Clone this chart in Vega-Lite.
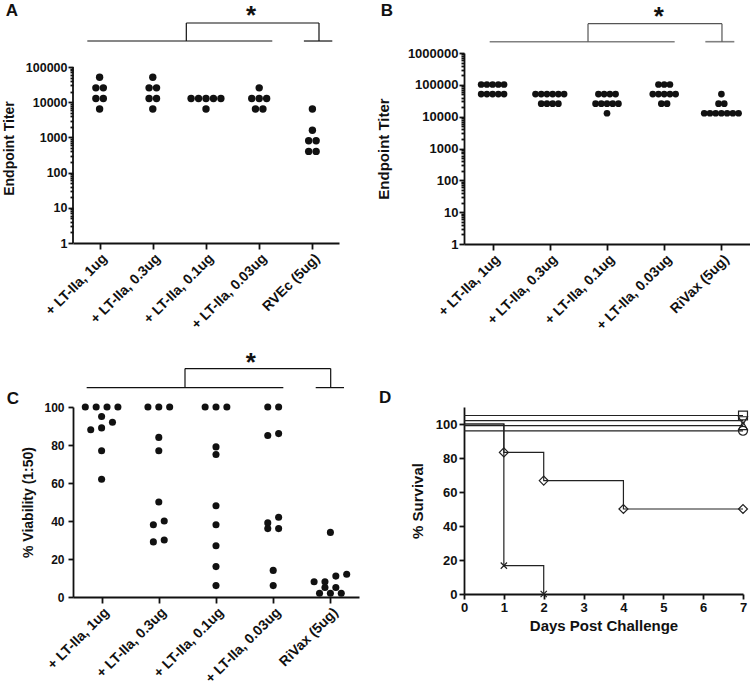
{
  "$schema": "https://vega.github.io/schema/vega-lite/v6.json",
  "padding": {"left": 2, "top": 2, "right": 0, "bottom": 0},
  "background": "white",
  "config": {
    "view": {"stroke": null},
    "font": "Liberation Sans",
    "axis": {
      "domainColor": "#111", "domainWidth": 1.8, "tickColor": "#111", "tickWidth": 1.8,
      "labelColor": "#111", "labelFont": "Liberation Sans", "labelFontWeight": "bold",
      "titleColor": "#111", "titleFont": "Liberation Sans", "titleFontWeight": "bold",
      "grid": false, "labelOverlap": false, "labelFlush": false
    }
  },
  "datasets": {
    "titerA": [
      {"group": "+ LT-IIa, 1ug", "titer": 51200}, {"group": "+ LT-IIa, 1ug", "titer": 25600}, {"group": "+ LT-IIa, 1ug", "titer": 25600},
      {"group": "+ LT-IIa, 1ug", "titer": 12800}, {"group": "+ LT-IIa, 1ug", "titer": 12800}, {"group": "+ LT-IIa, 1ug", "titer": 6400},
      {"group": "+ LT-IIa, 0.3ug", "titer": 51200}, {"group": "+ LT-IIa, 0.3ug", "titer": 25600}, {"group": "+ LT-IIa, 0.3ug", "titer": 25600},
      {"group": "+ LT-IIa, 0.3ug", "titer": 12800}, {"group": "+ LT-IIa, 0.3ug", "titer": 12800}, {"group": "+ LT-IIa, 0.3ug", "titer": 6400},
      {"group": "+ LT-IIa, 0.1ug", "titer": 12800}, {"group": "+ LT-IIa, 0.1ug", "titer": 12800}, {"group": "+ LT-IIa, 0.1ug", "titer": 12800},
      {"group": "+ LT-IIa, 0.1ug", "titer": 12800}, {"group": "+ LT-IIa, 0.1ug", "titer": 12800}, {"group": "+ LT-IIa, 0.1ug", "titer": 6400},
      {"group": "+ LT-IIa, 0.03ug", "titer": 25600}, {"group": "+ LT-IIa, 0.03ug", "titer": 12800}, {"group": "+ LT-IIa, 0.03ug", "titer": 12800},
      {"group": "+ LT-IIa, 0.03ug", "titer": 12800}, {"group": "+ LT-IIa, 0.03ug", "titer": 6400}, {"group": "+ LT-IIa, 0.03ug", "titer": 6400},
      {"group": "RVEc (5ug)", "titer": 6400}, {"group": "RVEc (5ug)", "titer": 1600}, {"group": "RVEc (5ug)", "titer": 800},
      {"group": "RVEc (5ug)", "titer": 800}, {"group": "RVEc (5ug)", "titer": 400}, {"group": "RVEc (5ug)", "titer": 400}
    ],
    "titerB": [
      {"group": "+ LT-IIa, 1ug", "titer": 102400}, {"group": "+ LT-IIa, 1ug", "titer": 102400}, {"group": "+ LT-IIa, 1ug", "titer": 102400},
      {"group": "+ LT-IIa, 1ug", "titer": 102400}, {"group": "+ LT-IIa, 1ug", "titer": 102400},
      {"group": "+ LT-IIa, 1ug", "titer": 51200}, {"group": "+ LT-IIa, 1ug", "titer": 51200}, {"group": "+ LT-IIa, 1ug", "titer": 51200},
      {"group": "+ LT-IIa, 1ug", "titer": 51200}, {"group": "+ LT-IIa, 1ug", "titer": 51200},
      {"group": "+ LT-IIa, 0.3ug", "titer": 51200}, {"group": "+ LT-IIa, 0.3ug", "titer": 51200}, {"group": "+ LT-IIa, 0.3ug", "titer": 51200},
      {"group": "+ LT-IIa, 0.3ug", "titer": 51200}, {"group": "+ LT-IIa, 0.3ug", "titer": 51200}, {"group": "+ LT-IIa, 0.3ug", "titer": 51200},
      {"group": "+ LT-IIa, 0.3ug", "titer": 25600}, {"group": "+ LT-IIa, 0.3ug", "titer": 25600}, {"group": "+ LT-IIa, 0.3ug", "titer": 25600},
      {"group": "+ LT-IIa, 0.3ug", "titer": 25600},
      {"group": "+ LT-IIa, 0.1ug", "titer": 51200}, {"group": "+ LT-IIa, 0.1ug", "titer": 51200}, {"group": "+ LT-IIa, 0.1ug", "titer": 51200},
      {"group": "+ LT-IIa, 0.1ug", "titer": 51200},
      {"group": "+ LT-IIa, 0.1ug", "titer": 25600}, {"group": "+ LT-IIa, 0.1ug", "titer": 25600}, {"group": "+ LT-IIa, 0.1ug", "titer": 25600},
      {"group": "+ LT-IIa, 0.1ug", "titer": 25600}, {"group": "+ LT-IIa, 0.1ug", "titer": 25600}, {"group": "+ LT-IIa, 0.1ug", "titer": 12800},
      {"group": "+ LT-IIa, 0.03ug", "titer": 102400}, {"group": "+ LT-IIa, 0.03ug", "titer": 102400}, {"group": "+ LT-IIa, 0.03ug", "titer": 102400},
      {"group": "+ LT-IIa, 0.03ug", "titer": 51200}, {"group": "+ LT-IIa, 0.03ug", "titer": 51200}, {"group": "+ LT-IIa, 0.03ug", "titer": 51200},
      {"group": "+ LT-IIa, 0.03ug", "titer": 51200}, {"group": "+ LT-IIa, 0.03ug", "titer": 51200},
      {"group": "+ LT-IIa, 0.03ug", "titer": 25600}, {"group": "+ LT-IIa, 0.03ug", "titer": 25600},
      {"group": "RiVax (5ug)", "titer": 51200}, {"group": "RiVax (5ug)", "titer": 25600}, {"group": "RiVax (5ug)", "titer": 25600},
      {"group": "RiVax (5ug)", "titer": 12800}, {"group": "RiVax (5ug)", "titer": 12800}, {"group": "RiVax (5ug)", "titer": 12800},
      {"group": "RiVax (5ug)", "titer": 12800}, {"group": "RiVax (5ug)", "titer": 12800}, {"group": "RiVax (5ug)", "titer": 12800},
      {"group": "RiVax (5ug)", "titer": 12800}
    ],
    "viabilityC": [
      {"group": "+ LT-IIa, 1ug", "viability": 100}, {"group": "+ LT-IIa, 1ug", "viability": 100}, {"group": "+ LT-IIa, 1ug", "viability": 100},
      {"group": "+ LT-IIa, 1ug", "viability": 100}, {"group": "+ LT-IIa, 1ug", "viability": 95}, {"group": "+ LT-IIa, 1ug", "viability": 92},
      {"group": "+ LT-IIa, 1ug", "viability": 89}, {"group": "+ LT-IIa, 1ug", "viability": 88}, {"group": "+ LT-IIa, 1ug", "viability": 77},
      {"group": "+ LT-IIa, 1ug", "viability": 62},
      {"group": "+ LT-IIa, 0.3ug", "viability": 100}, {"group": "+ LT-IIa, 0.3ug", "viability": 100}, {"group": "+ LT-IIa, 0.3ug", "viability": 100},
      {"group": "+ LT-IIa, 0.3ug", "viability": 84}, {"group": "+ LT-IIa, 0.3ug", "viability": 77}, {"group": "+ LT-IIa, 0.3ug", "viability": 50},
      {"group": "+ LT-IIa, 0.3ug", "viability": 40}, {"group": "+ LT-IIa, 0.3ug", "viability": 38}, {"group": "+ LT-IIa, 0.3ug", "viability": 30},
      {"group": "+ LT-IIa, 0.3ug", "viability": 29},
      {"group": "+ LT-IIa, 0.1ug", "viability": 100}, {"group": "+ LT-IIa, 0.1ug", "viability": 100}, {"group": "+ LT-IIa, 0.1ug", "viability": 100},
      {"group": "+ LT-IIa, 0.1ug", "viability": 79}, {"group": "+ LT-IIa, 0.1ug", "viability": 75}, {"group": "+ LT-IIa, 0.1ug", "viability": 48},
      {"group": "+ LT-IIa, 0.1ug", "viability": 38}, {"group": "+ LT-IIa, 0.1ug", "viability": 27}, {"group": "+ LT-IIa, 0.1ug", "viability": 16},
      {"group": "+ LT-IIa, 0.1ug", "viability": 6},
      {"group": "+ LT-IIa, 0.03ug", "viability": 100}, {"group": "+ LT-IIa, 0.03ug", "viability": 100}, {"group": "+ LT-IIa, 0.03ug", "viability": 86},
      {"group": "+ LT-IIa, 0.03ug", "viability": 85}, {"group": "+ LT-IIa, 0.03ug", "viability": 42}, {"group": "+ LT-IIa, 0.03ug", "viability": 39},
      {"group": "+ LT-IIa, 0.03ug", "viability": 36}, {"group": "+ LT-IIa, 0.03ug", "viability": 36}, {"group": "+ LT-IIa, 0.03ug", "viability": 14},
      {"group": "+ LT-IIa, 0.03ug", "viability": 6},
      {"group": "RiVax (5ug)", "viability": 34}, {"group": "RiVax (5ug)", "viability": 12}, {"group": "RiVax (5ug)", "viability": 11},
      {"group": "RiVax (5ug)", "viability": 8}, {"group": "RiVax (5ug)", "viability": 8}, {"group": "RiVax (5ug)", "viability": 5},
      {"group": "RiVax (5ug)", "viability": 5}, {"group": "RiVax (5ug)", "viability": 2}, {"group": "RiVax (5ug)", "viability": 2},
      {"group": "RiVax (5ug)", "viability": 2}
    ],
    "survivalD": [
      {"series": "Group 1", "day": 0, "survival": 105}, {"series": "Group 1", "day": 7, "survival": 105},
      {"series": "Group 2", "day": 0, "survival": 102}, {"series": "Group 2", "day": 7, "survival": 102},
      {"series": "Group 3", "day": 0, "survival": 99}, {"series": "Group 3", "day": 7, "survival": 99},
      {"series": "Group 4", "day": 0, "survival": 96}, {"series": "Group 4", "day": 7, "survival": 96},
      {"series": "Group 5", "day": 0, "survival": 100}, {"series": "Group 5", "day": 1, "survival": 83.3},
      {"series": "Group 5", "day": 2, "survival": 66.7}, {"series": "Group 5", "day": 4, "survival": 50},
      {"series": "Group 5", "day": 7, "survival": 50},
      {"series": "Group 6", "day": 0, "survival": 100}, {"series": "Group 6", "day": 1, "survival": 16.7},
      {"series": "Group 6", "day": 2, "survival": 0}
    ]
  },
  "spacing": 17,
  "hconcat": [
    {
      "spacing": 18,
      "vconcat": [
        {
          "width": 266, "height": 190,
          "layer": [
            {
              "data": {"name": "titerA"},
              "transform": [
                {"calculate": "indexof(['+ LT-IIa, 1ug','+ LT-IIa, 0.3ug','+ LT-IIa, 0.1ug','+ LT-IIa, 0.03ug','RVEc (5ug)'], datum.group) + 1", "as": "idx"},
                {"joinaggregate": [{"op": "count", "as": "n"}], "groupby": ["group", "titer"]},
                {"window": [{"op": "row_number", "as": "k"}], "groupby": ["group", "titer"]},
                {"calculate": "datum.idx + (datum.k - (datum.n + 1) / 2) * 0.14", "as": "xp"}
              ],
              "mark": {"type": "circle", "size": 55, "color": "#111", "opacity": 1},
              "encoding": {
                "x": {"field": "xp", "type": "quantitative", "scale": {"domain": [0.5, 5.5], "nice": false, "zero": false},
                  "axis": {"title": null, "values": [1, 2, 3, 4, 5], "tickCount": 100, "labelExpr": "['+ LT-IIa, 1ug','+ LT-IIa, 0.3ug','+ LT-IIa, 0.1ug','+ LT-IIa, 0.03ug','RVEc (5ug)'][datum.value - 1]",
                    "labelAngle": -45, "labelAlign": "right", "labelBaseline": "top", "labelFontSize": 14, "tickSize": 6, "labelPadding": 2, "labelOverlap": false}},
                "y": {"field": "titer", "type": "quantitative", "scale": {"type": "log", "domain": [1, 250000], "nice": false},
                  "axis": {"title": "Endpoint Titer", "titleFontSize": 14, "titlePadding": 9, "domain": false, "labelOverlap": false, "tickCount": 100,
                    "values": [1,2,3,4,5,6,7,8,9,10,20,30,40,50,60,70,80,90,100,200,300,400,500,600,700,800,900,1000,2000,3000,4000,5000,6000,7000,8000,9000,10000,20000,30000,40000,50000,60000,70000,80000,90000,100000],
                    "labelExpr": "indexof([1,10,100,1000,10000,100000], datum.value) >= 0 ? format(datum.value, 'd') : ''",
                    "labelFontSize": 12.5, "labelPadding": 1,
                    "tickSize": {"condition": {"test": "indexof([1,10,100,1000,10000,100000], datum.value) >= 0", "value": 5}, "value": 3}}}
              }
            },
            {"data": {"values": [{}]}, "mark": {"type": "rule", "color": "#111", "strokeWidth": 1.8},
              "encoding": {"x": {"datum": 0.5}, "y": {"datum": 1}, "y2": {"datum": 100000}}},
            {"data": {"values": [{}]}, "mark": {"type": "rule", "color": "#111", "strokeWidth": 1.2},
              "encoding": {"x": {"datum": 0.769}, "x2": {"datum": 4.246}, "y": {"datum": 547800}}},
            {"data": {"values": [{}]}, "mark": {"type": "rule", "color": "#111", "strokeWidth": 1.2},
              "encoding": {"x": {"datum": 4.84}, "x2": {"datum": 5.374}, "y": {"datum": 547800}}},
            {"data": {"values": [{}]}, "mark": {"type": "rule", "color": "#111", "strokeWidth": 1.2},
              "encoding": {"x": {"datum": 2.63}, "x2": {"datum": 5.124}, "y": {"datum": 1778000}}},
            {"data": {"values": [{}]}, "mark": {"type": "rule", "color": "#111", "strokeWidth": 1.2},
              "encoding": {"x": {"datum": 2.63}, "y": {"datum": 547800}, "y2": {"datum": 1778000}}},
            {"data": {"values": [{}]}, "mark": {"type": "rule", "color": "#111", "strokeWidth": 1.2},
              "encoding": {"x": {"datum": 5.124}, "y": {"datum": 547800}, "y2": {"datum": 1778000}}},
            {"data": {"values": [{}]}, "mark": {"type": "text", "text": "*", "fontSize": 26, "fontWeight": "bold", "font": "Liberation Sans", "color": "#111", "align": "center", "baseline": "alphabetic"},
              "encoding": {"x": {"datum": 3.846}, "y": {"datum": 1633000}}},
            {"data": {"values": [{}]}, "mark": {"type": "text", "text": "A", "fontSize": 17, "fontWeight": "bold", "font": "Liberation Sans", "color": "#111", "align": "center", "baseline": "alphabetic"},
              "encoding": {"x": {"datum": -0.647}, "y": {"datum": 2812000}}}
          ]
        },
        {
          "width": 286, "height": 190,
          "layer": [
            {
              "data": {"name": "viabilityC"},
              "transform": [
                {"calculate": "indexof(['+ LT-IIa, 1ug','+ LT-IIa, 0.3ug','+ LT-IIa, 0.1ug','+ LT-IIa, 0.03ug','RiVax (5ug)'], datum.group) + 1", "as": "idx"},
                {"bin": {"step": 5, "anchor": 2.5, "nice": false, "extent": [-2.5, 102.5]}, "field": "viability", "as": "vb"},
                {"joinaggregate": [{"op": "count", "as": "n"}], "groupby": ["group", "vb"]},
                {"window": [{"op": "row_number", "as": "k"}], "groupby": ["group", "vb"], "sort": [{"field": "viability", "order": "ascending"}]},
                {"calculate": "datum.idx + (datum.k - (datum.n + 1) / 2) * 0.19", "as": "xp"}
              ],
              "mark": {"type": "circle", "size": 50, "color": "#111", "opacity": 1},
              "encoding": {
                "x": {"field": "xp", "type": "quantitative", "scale": {"domain": [0.5, 5.5], "nice": false, "zero": false},
                  "axis": {"title": null, "values": [1, 2, 3, 4, 5], "tickCount": 100, "labelExpr": "['+ LT-IIa, 1ug','+ LT-IIa, 0.3ug','+ LT-IIa, 0.1ug','+ LT-IIa, 0.03ug','RiVax (5ug)'][datum.value - 1]",
                    "labelAngle": -45, "labelAlign": "right", "labelBaseline": "top", "labelFontSize": 14, "tickSize": 6, "labelPadding": 2, "labelOverlap": false}},
                "y": {"field": "viability", "type": "quantitative", "scale": {"domain": [0, 100], "nice": false},
                  "axis": {"title": "% Viability (1:50)", "titleFontSize": 14, "titlePadding": 8, "values": [0, 20, 40, 60, 80, 100], "tickCount": 100, "format": "d",
                    "labelFontSize": 12, "labelPadding": 4, "tickSize": 5, "labelOverlap": false}}
              }
            },
            {"data": {"values": [{}]}, "mark": {"type": "rule", "color": "#111", "strokeWidth": 1.2},
              "encoding": {"x": {"datum": 0.739}, "x2": {"datum": 4.177}, "y": {"datum": 110.2}}},
            {"data": {"values": [{}]}, "mark": {"type": "rule", "color": "#111", "strokeWidth": 1.2},
              "encoding": {"x": {"datum": 4.743}, "x2": {"datum": 5.238}, "y": {"datum": 110.2}}},
            {"data": {"values": [{}]}, "mark": {"type": "rule", "color": "#111", "strokeWidth": 1.2},
              "encoding": {"x": {"datum": 2.458}, "x2": {"datum": 5.005}, "y": {"datum": 120.2}}},
            {"data": {"values": [{}]}, "mark": {"type": "rule", "color": "#111", "strokeWidth": 1.2},
              "encoding": {"x": {"datum": 2.458}, "y": {"datum": 110.2}, "y2": {"datum": 120.2}}},
            {"data": {"values": [{}]}, "mark": {"type": "rule", "color": "#111", "strokeWidth": 1.2},
              "encoding": {"x": {"datum": 5.005}, "y": {"datum": 110.2}, "y2": {"datum": 120.2}}},
            {"data": {"values": [{}]}, "mark": {"type": "text", "text": "*", "fontSize": 26, "fontWeight": "bold", "font": "Liberation Sans", "color": "#111", "align": "center", "baseline": "alphabetic"},
              "encoding": {"x": {"datum": 3.607}, "y": {"datum": 118.8}}},
            {"data": {"values": [{}]}, "mark": {"type": "text", "text": "C", "fontSize": 17, "fontWeight": "bold", "font": "Liberation Sans", "color": "#111", "align": "center", "baseline": "alphabetic"},
              "encoding": {"x": {"datum": -0.549}, "y": {"datum": 101.6}}}
          ]
        }
      ]
    },
    {
      "spacing": 55,
      "vconcat": [
        {
          "width": 286, "height": 191,
          "layer": [
            {
              "data": {"name": "titerB"},
              "transform": [
                {"calculate": "indexof(['+ LT-IIa, 1ug','+ LT-IIa, 0.3ug','+ LT-IIa, 0.1ug','+ LT-IIa, 0.03ug','RiVax (5ug)'], datum.group) + 1", "as": "idx"},
                {"joinaggregate": [{"op": "count", "as": "n"}], "groupby": ["group", "titer"]},
                {"window": [{"op": "row_number", "as": "k"}], "groupby": ["group", "titer"]},
                {"calculate": "datum.idx + (datum.k - (datum.n + 1) / 2) * 0.1", "as": "xp"}
              ],
              "mark": {"type": "circle", "size": 45, "color": "#111", "opacity": 1},
              "encoding": {
                "x": {"field": "xp", "type": "quantitative", "scale": {"domain": [0.5, 5.5], "nice": false, "zero": false},
                  "axis": {"title": null, "values": [1, 2, 3, 4, 5], "tickCount": 100, "labelExpr": "['+ LT-IIa, 1ug','+ LT-IIa, 0.3ug','+ LT-IIa, 0.1ug','+ LT-IIa, 0.03ug','RiVax (5ug)'][datum.value - 1]",
                    "labelAngle": -45, "labelAlign": "right", "labelBaseline": "top", "labelFontSize": 14, "tickSize": 6, "labelPadding": 2, "labelOverlap": false}},
                "y": {"field": "titer", "type": "quantitative", "scale": {"type": "log", "domain": [1, 1000000], "nice": false},
                  "axis": {"title": "Endpoint Titer", "titleFontSize": 15, "titlePadding": 16, "labelOverlap": false, "tickCount": 100,
                    "values": [1,2,3,4,5,6,7,8,9,10,20,30,40,50,60,70,80,90,100,200,300,400,500,600,700,800,900,1000,2000,3000,4000,5000,6000,7000,8000,9000,10000,20000,30000,40000,50000,60000,70000,80000,90000,100000,200000,300000,400000,500000,600000,700000,800000,900000,1000000],
                    "labelExpr": "indexof([1,10,100,1000,10000,100000,1000000], datum.value) >= 0 ? format(datum.value, 'd') : ''",
                    "labelFontSize": 13, "labelPadding": 1,
                    "tickSize": {"condition": {"test": "indexof([1,10,100,1000,10000,100000,1000000], datum.value) >= 0", "value": 5}, "value": 3}}}
              }
            },
            {"data": {"values": [{}]}, "mark": {"type": "rule", "color": "#808080", "strokeWidth": 1.6},
              "encoding": {"x": {"datum": 0.949}, "x2": {"datum": 4.183}, "y": {"datum": 2265000}}},
            {"data": {"values": [{}]}, "mark": {"type": "rule", "color": "#808080", "strokeWidth": 1.6},
              "encoding": {"x": {"datum": 4.719}, "x2": {"datum": 5.226}, "y": {"datum": 2265000}}},
            {"data": {"values": [{}]}, "mark": {"type": "rule", "color": "#555", "strokeWidth": 1.2},
              "encoding": {"x": {"datum": 2.668}, "x2": {"datum": 5.01}, "y": {"datum": 8337000}}},
            {"data": {"values": [{}]}, "mark": {"type": "rule", "color": "#555", "strokeWidth": 1.2},
              "encoding": {"x": {"datum": 2.668}, "y": {"datum": 2265000}, "y2": {"datum": 8337000}}},
            {"data": {"values": [{}]}, "mark": {"type": "rule", "color": "#555", "strokeWidth": 1.2},
              "encoding": {"x": {"datum": 5.01}, "y": {"datum": 2265000}, "y2": {"datum": 8337000}}},
            {"data": {"values": [{}]}, "mark": {"type": "text", "text": "*", "fontSize": 26, "fontWeight": "bold", "font": "Liberation Sans", "color": "#111", "align": "center", "baseline": "alphabetic"},
              "encoding": {"x": {"datum": 3.904}, "y": {"datum": 7413000}}},
            {"data": {"values": [{}]}, "mark": {"type": "text", "text": "B", "fontSize": 17, "fontWeight": "bold", "font": "Liberation Sans", "color": "#111", "align": "center", "baseline": "alphabetic"},
              "encoding": {"x": {"datum": -0.846}, "y": {"datum": 14520000}}}
          ]
        },
        {
          "width": 279, "height": 187,
          "layer": [
            {
              "data": {"name": "survivalD"},
              "mark": {"type": "line", "interpolate": "step-after", "color": "#222", "strokeWidth": 1.2},
              "encoding": {
                "x": {"field": "day", "type": "quantitative", "scale": {"domain": [0, 7], "nice": false, "zero": false},
                  "axis": {"title": "Days Post Challenge", "titleFontSize": 15, "titlePadding": 4, "values": [0, 1, 2, 3, 4, 5, 6, 7], "tickCount": 100, "format": "d",
                    "labelAngle": 0, "labelFontSize": 13, "tickSize": 5, "labelPadding": 2, "labelOverlap": false}},
                "y": {"field": "survival", "type": "quantitative", "scale": {"domain": [0, 110], "nice": false},
                  "axis": {"title": "% Survival", "titleFontSize": 15, "titlePadding": 10, "values": [0, 20, 40, 60, 80, 100], "tickCount": 100, "format": "d",
                    "labelFontSize": 13, "labelPadding": 2, "tickSize": 5, "labelOverlap": false}},
                "detail": {"field": "series", "type": "nominal"}
              }
            },
            {
              "data": {"name": "survivalD"},
              "transform": [{"filter": "datum.day > 0"}],
              "mark": {"type": "point", "filled": false, "color": "#222", "strokeWidth": 1.2, "size": 80, "opacity": 1},
              "encoding": {
                "x": {"field": "day", "type": "quantitative"},
                "y": {"field": "survival", "type": "quantitative"},
                "shape": {"field": "series", "type": "nominal", "legend": null,
                  "scale": {"domain": ["Group 1", "Group 2", "Group 3", "Group 4", "Group 5", "Group 6"],
                    "range": ["square", "triangle-down", "triangle-up", "circle", "diamond", "M-0.7,-0.7L0.7,0.7M-0.7,0.7L0.7,-0.7"]}}
              }
            },
            {"data": {"values": [{}]}, "mark": {"type": "text", "text": "D", "fontSize": 17, "fontWeight": "bold", "font": "Liberation Sans", "color": "#111", "align": "center", "baseline": "alphabetic"},
              "encoding": {"x": {"datum": -1.98}, "y": {"datum": 112.4}}}
          ]
        }
      ]
    }
  ]
}
